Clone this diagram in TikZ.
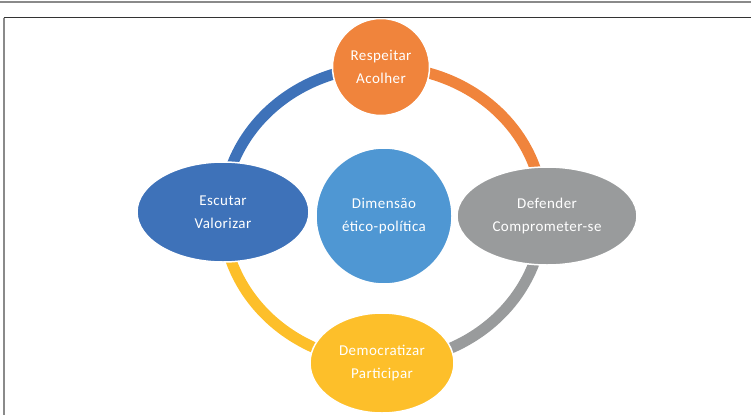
\documentclass[tikz,border=0pt]{standalone}
\usepackage{fontspec}
\setmainfont{Carlito}
\usetikzlibrary{shapes.geometric}
\definecolor{cOrange}{HTML}{F0843C}
\definecolor{cBlueDark}{HTML}{3E72B9}
\definecolor{cBlueMid}{HTML}{4F97D3}
\definecolor{cGray}{HTML}{999B9C}
\definecolor{cYellow}{HTML}{FDBF2A}
\definecolor{cFrame}{HTML}{333333}
\definecolor{cRule}{HTML}{8A8A8A}
\tikzset{
  ringarc/.style={line width=11pt},
  bubble/.style={draw=white, line width=1.5pt, inner sep=0pt, align=center,
    text=white, font=\fontsize{15}{23}\selectfont\addfontfeatures{LetterSpace=3}},
  roundbubble/.style={bubble, circle},
  ovalbubble/.style={bubble, ellipse},
}
\begin{document}
\begin{tikzpicture}[x=1pt,y=-1pt]
\useasboundingbox (0,0) rectangle (751,415);
% ring points
\coordinate (rT) at (383,67);
\coordinate (rR) at (543,214);
\coordinate (rB) at (383,362);
\coordinate (rL) at (223,214);
\draw[ringarc, cBlueDark] (rT) arc[start angle=90, end angle=180, x radius=160pt, y radius=147pt];
\draw[ringarc, cOrange] (rT) arc[start angle=90, end angle=0, x radius=160pt, y radius=147pt];
\draw[ringarc, cGray] (rR) arc[start angle=0, end angle=-90, x radius=160pt, y radius=148pt];
\draw[ringarc, cYellow] (rB) arc[start angle=270, end angle=180, x radius=160pt, y radius=148pt];
% nodes
\node[roundbubble, fill=cBlueMid, minimum size=136pt] (center) at (384,216) {Dimensão\\ético-política};
\node[roundbubble, fill=cOrange, minimum size=97pt] (top) at (381,67) {Respeitar\\Acolher};
\node[ovalbubble, fill=cBlueDark, minimum width=172pt, minimum height=100pt] (left) at (223,212) {Escutar\\Valorizar};
\node[ovalbubble, fill=cGray, minimum width=180pt, minimum height=98pt] (right) at (547,216) {Defender\\Comprometer-se};
\node[ovalbubble, fill=cYellow, minimum width=144pt, minimum height=100pt] (bottom) at (382,363) {Democratizar\\Participar};
% page rules
\coordinate (ruleL) at (0,2);
\coordinate (ruleR) at (751,2);
\draw[cRule, line width=2pt] (ruleL) -- (ruleR);
\coordinate (frameTL) at (3.5,17.5);
\coordinate (frameTR) at (751,17.5);
\coordinate (frameBL) at (3.5,415);
\draw[cFrame, line width=1pt] (frameTL) -- (frameTR);
\draw[cRule, line width=2pt] (frameTL) -- (frameBL);
\end{tikzpicture}
\end{document}
